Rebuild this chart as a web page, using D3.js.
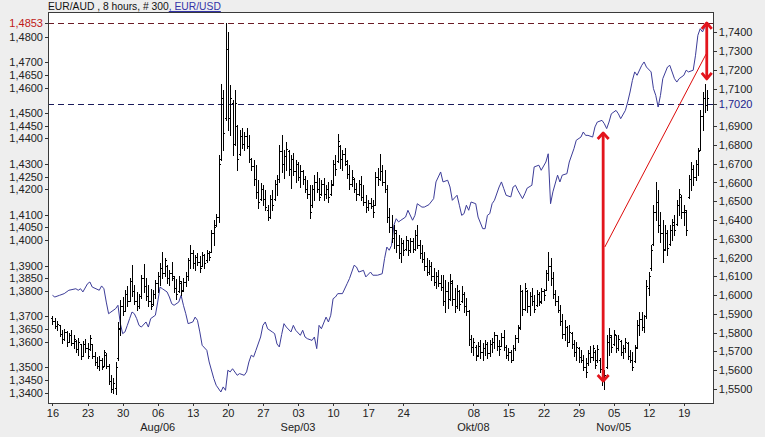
<!DOCTYPE html>
<html><head><meta charset="utf-8">
<script src="https://cdn.jsdelivr.net/npm/d3@7"></script>
<style>
html,body{margin:0;padding:0;background:#eeeeee;}
svg{display:block;}
text{font-family:"Liberation Sans",Arial,sans-serif;font-size:11px;}
</style></head><body>
<svg id="c" width="765" height="437"></svg>
<script>
// ---------- DATA ----------
// EUR/AUD 8-hour bars (left axis), bar index 0 = Mon 16 Jul 2007
const barHigh=[1.3701,1.3694,1.3682,1.3667,1.3647,1.3651,1.3643,1.3635,1.3647,1.3627,1.3607,1.3615,1.3591,1.3603,1.3611,1.3595,1.3627,1.3591,1.3560,1.3540,
1.3544,1.3537,1.3568,1.3556,1.3513,1.3470,1.3458,1.3521,1.3678,1.3765,1.3777,1.3804,1.3820,1.3851,1.3902,1.3824,1.3796,1.3788,1.3863,1.3906,
1.3851,1.3824,1.3808,1.3804,1.3843,1.3875,1.3910,1.3953,1.3930,1.3902,1.3883,1.3914,1.3859,1.3847,1.3859,1.3839,1.3851,1.3875,1.3930,1.3981,
1.3961,1.3942,1.3949,1.3938,1.3953,1.3945,1.3961,1.3957,1.4040,1.4079,1.4103,1.4335,1.4614,1.4590,1.4853,1.4818,1.4610,1.4551,1.4590,1.4452,
1.4433,1.4441,1.4425,1.4441,1.4413,1.4323,1.4315,1.4295,1.4236,1.4225,1.4217,1.4197,1.4138,1.4177,1.4197,1.4236,1.4256,1.4374,1.4413,1.4354,
1.4386,1.4354,1.4335,1.4343,1.4315,1.4307,1.4295,1.4276,1.4252,1.4236,1.4217,1.4217,1.4256,1.4268,1.4244,1.4236,1.4244,1.4217,1.4229,1.4236,
1.4315,1.4335,1.4417,1.4374,1.4354,1.4362,1.4315,1.4295,1.4276,1.4244,1.4225,1.4236,1.4252,1.4217,1.4177,1.4158,1.4166,1.4158,1.4268,1.4283,
1.4339,1.4295,1.4276,1.4217,1.4126,1.4099,1.4060,1.4040,1.4020,1.4008,1.4000,1.4016,1.4000,1.4008,1.4008,1.4040,1.4060,1.4000,1.3981,1.3953,
1.3930,1.3922,1.3914,1.3890,1.3875,1.3883,1.3863,1.3863,1.3843,1.3835,1.3867,1.3843,1.3812,1.3824,1.3804,1.3820,1.3796,1.3773,1.3725,1.3627,
1.3615,1.3587,1.3599,1.3607,1.3595,1.3607,1.3599,1.3607,1.3615,1.3639,1.3627,1.3607,1.3635,1.3647,1.3587,1.3576,1.3568,1.3587,1.3627,1.3667,
1.3824,1.3804,1.3831,1.3804,1.3796,1.3812,1.3784,1.3804,1.3796,1.3812,1.3808,1.3883,1.3953,1.3930,1.3875,1.3804,1.3780,1.3745,1.3710,1.3686,
1.3663,1.3667,1.3639,1.3607,1.3599,1.3580,1.3568,1.3548,1.3537,1.3568,1.3583,1.3587,1.3568,1.3587,1.3537,1.3509,1.3489,1.3627,1.3655,1.3627,
1.3647,1.3627,1.3627,1.3607,1.3587,1.3615,1.3599,1.3568,1.3560,1.3587,1.3686,1.3718,1.3718,1.3706,1.3843,1.3875,1.3981,1.4138,1.4229,1.4197,
1.4111,1.4079,1.4060,1.4040,1.4060,1.4083,1.4099,1.4158,1.4201,1.4177,1.4138,1.4118,1.4256,1.4307,1.4295,1.4315,1.4362,1.4512,1.4582,1.4614,
1.4590];
const barLow=[1.3670,1.3655,1.3647,1.3623,1.3595,1.3607,1.3583,1.3599,1.3587,1.3576,1.3560,1.3548,1.3533,1.3544,1.3560,1.3537,1.3568,1.3537,1.3509,1.3497,
1.3489,1.3493,1.3505,1.3497,1.3434,1.3403,1.3399,1.3395,1.3529,1.3627,1.3706,1.3725,1.3741,1.3765,1.3781,1.3749,1.3725,1.3733,1.3773,1.3796,
1.3765,1.3741,1.3729,1.3745,1.3773,1.3796,1.3824,1.3851,1.3859,1.3831,1.3824,1.3843,1.3796,1.3769,1.3796,1.3784,1.3800,1.3820,1.3843,1.3890,
1.3890,1.3883,1.3902,1.3875,1.3898,1.3890,1.3914,1.3922,1.3953,1.3981,1.4055,1.4071,1.4315,1.4354,1.4472,1.4433,1.4413,1.4335,1.4374,1.4276,
1.4335,1.4362,1.4354,1.4362,1.4307,1.4276,1.4217,1.4166,1.4126,1.4158,1.4138,1.4118,1.4079,1.4087,1.4118,1.4158,1.4177,1.4229,1.4268,1.4244,
1.4276,1.4256,1.4205,1.4256,1.4229,1.4236,1.4209,1.4221,1.4189,1.4166,1.4087,1.4130,1.4158,1.4189,1.4158,1.4177,1.4158,1.4166,1.4150,1.4177,
1.4217,1.4256,1.4307,1.4283,1.4276,1.4295,1.4244,1.4201,1.4213,1.4189,1.4158,1.4177,1.4158,1.4138,1.4111,1.4118,1.4126,1.4091,1.4138,1.4217,
1.4236,1.4217,1.4189,1.4071,1.4032,1.3993,1.3969,1.3953,1.3930,1.3914,1.3942,1.3961,1.3942,1.3953,1.3953,1.3961,1.3969,1.3930,1.3914,1.3883,
1.3863,1.3867,1.3843,1.3824,1.3812,1.3820,1.3804,1.3745,1.3718,1.3733,1.3765,1.3745,1.3718,1.3733,1.3725,1.3757,1.3718,1.3706,1.3587,1.3560,
1.3548,1.3529,1.3544,1.3537,1.3529,1.3548,1.3537,1.3544,1.3560,1.3576,1.3568,1.3548,1.3583,1.3568,1.3537,1.3529,1.3521,1.3529,1.3568,1.3599,
1.3650,1.3706,1.3725,1.3718,1.3706,1.3745,1.3718,1.3741,1.3745,1.3753,1.3765,1.3804,1.3843,1.3824,1.3773,1.3745,1.3718,1.3667,1.3615,1.3607,
1.3583,1.3599,1.3576,1.3544,1.3529,1.3521,1.3521,1.3489,1.3462,1.3509,1.3521,1.3529,1.3497,1.3521,1.3481,1.3430,1.3415,1.3497,1.3548,1.3560,
1.3587,1.3560,1.3568,1.3548,1.3537,1.3560,1.3533,1.3521,1.3489,1.3521,1.3576,1.3627,1.3647,1.3639,1.3694,1.3784,1.3883,1.3981,1.4079,1.4032,
1.3993,1.3914,1.3961,1.3942,1.3981,1.4000,1.4020,1.4060,1.4099,1.4087,1.4060,1.4020,1.4166,1.4197,1.4217,1.4236,1.4256,1.4354,1.4433,1.4504,
1.4512];
const barOpen=[1.3695,1.3680,1.3662,1.3665,1.3630,1.3610,1.3640,1.3600,1.3625,1.3595,1.3605,1.3570,1.3590,1.3545,1.3590,1.3575,1.3570,1.3590,1.3545,1.3520,
1.3505,1.3530,1.3505,1.3550,1.3505,1.3445,1.3415,1.3420,1.3535,1.3650,1.3740,1.3720,1.3790,1.3760,1.3840,1.3800,1.3760,1.3740,1.3780,1.3850,
1.3820,1.3780,1.3760,1.3750,1.3790,1.3830,1.3860,1.3890,1.3870,1.3900,1.3850,1.3870,1.3850,1.3810,1.3800,1.3830,1.3805,1.3835,1.3860,1.3920,
1.3950,1.3910,1.3935,1.3915,1.3900,1.3940,1.3920,1.3950,1.3955,1.4030,1.4060,1.4090,1.4320,1.4560,1.4480,1.4750,1.4480,1.4540,1.4380,1.4450,
1.4340,1.4410,1.4380,1.4410,1.4370,1.4320,1.4290,1.4240,1.4190,1.4160,1.4200,1.4160,1.4120,1.4090,1.4160,1.4160,1.4220,1.4240,1.4350,1.4300,
1.4330,1.4350,1.4280,1.4320,1.4270,1.4300,1.4250,1.4270,1.4240,1.4200,1.4180,1.4140,1.4200,1.4230,1.4200,1.4180,1.4220,1.4180,1.4200,1.4180,
1.4220,1.4300,1.4310,1.4370,1.4320,1.4340,1.4300,1.4260,1.4220,1.4240,1.4200,1.4180,1.4220,1.4170,1.4150,1.4130,1.4145,1.4135,1.4140,1.4250,
1.4240,1.4270,1.4230,1.4200,1.4090,1.4050,1.4010,1.4030,1.3980,1.3950,1.3990,1.3965,1.4000,1.3960,1.3995,1.3965,1.4020,1.3980,1.3950,1.3925,
1.3900,1.3875,1.3900,1.3860,1.3835,1.3860,1.3830,1.3815,1.3760,1.3800,1.3770,1.3830,1.3770,1.3740,1.3800,1.3760,1.3790,1.3740,1.3720,1.3610,
1.3580,1.3580,1.3550,1.3585,1.3560,1.3575,1.3590,1.3555,1.3590,1.3600,1.3625,1.3585,1.3585,1.3620,1.3580,1.3550,1.3560,1.3530,1.3575,1.3615,
1.3660,1.3800,1.3730,1.3800,1.3740,1.3780,1.3760,1.3745,1.3790,1.3760,1.3800,1.3805,1.3870,1.3900,1.3850,1.3790,1.3760,1.3725,1.3680,1.3630,
1.3660,1.3600,1.3635,1.3590,1.3560,1.3575,1.3540,1.3530,1.3500,1.3515,1.3555,1.3540,1.3560,1.3530,1.3530,1.3495,1.3445,1.3500,1.3600,1.3620,
1.3590,1.3625,1.3575,1.3605,1.3560,1.3575,1.3595,1.3545,1.3530,1.3525,1.3580,1.3665,1.3690,1.3660,1.3700,1.3810,1.3890,1.3985,1.4110,1.4150,
1.4060,1.4030,1.3965,1.4030,1.3985,1.4040,1.4060,1.4065,1.4140,1.4170,1.4110,1.4110,1.4170,1.4240,1.4280,1.4250,1.4300,1.4355,1.4490,1.4560,
1.4530];
const barClose=[1.3680,1.3662,1.3670,1.3630,1.3610,1.3640,1.3600,1.3625,1.3595,1.3610,1.3570,1.3600,1.3545,1.3590,1.3575,1.3545,1.3615,1.3545,1.3520,1.3505,
1.3530,1.3500,1.3560,1.3505,1.3445,1.3415,1.3440,1.3500,1.3655,1.3740,1.3720,1.3790,1.3760,1.3840,1.3800,1.3760,1.3740,1.3780,1.3850,1.3820,
1.3780,1.3760,1.3740,1.3790,1.3830,1.3860,1.3890,1.3870,1.3920,1.3850,1.3870,1.3860,1.3810,1.3790,1.3840,1.3800,1.3835,1.3860,1.3920,1.3950,
1.3910,1.3935,1.3915,1.3890,1.3940,1.3910,1.3950,1.3935,1.4030,1.4050,1.4090,1.4300,1.4560,1.4420,1.4750,1.4480,1.4560,1.4380,1.4540,1.4320,
1.4410,1.4380,1.4410,1.4370,1.4320,1.4290,1.4240,1.4190,1.4150,1.4200,1.4160,1.4130,1.4090,1.4160,1.4140,1.4220,1.4240,1.4350,1.4300,1.4330,
1.4360,1.4280,1.4320,1.4270,1.4300,1.4250,1.4270,1.4240,1.4200,1.4180,1.4110,1.4200,1.4230,1.4200,1.4170,1.4220,1.4180,1.4200,1.4170,1.4215,
1.4300,1.4280,1.4390,1.4320,1.4340,1.4310,1.4260,1.4220,1.4250,1.4200,1.4180,1.4220,1.4170,1.4150,1.4130,1.4145,1.4135,1.4110,1.4250,1.4240,
1.4270,1.4230,1.4200,1.4090,1.4050,1.4010,1.4040,1.3980,1.3950,1.3990,1.3960,1.4000,1.3960,1.3995,1.3965,1.4020,1.3980,1.3950,1.3925,1.3900,
1.3875,1.3900,1.3860,1.3835,1.3860,1.3830,1.3815,1.3760,1.3800,1.3770,1.3840,1.3770,1.3740,1.3800,1.3750,1.3790,1.3740,1.3720,1.3610,1.3580,
1.3600,1.3545,1.3585,1.3560,1.3575,1.3590,1.3555,1.3590,1.3600,1.3625,1.3585,1.3570,1.3620,1.3580,1.3550,1.3560,1.3530,1.3575,1.3615,1.3655,
1.3800,1.3730,1.3810,1.3740,1.3780,1.3760,1.3730,1.3790,1.3755,1.3800,1.3785,1.3870,1.3900,1.3850,1.3790,1.3760,1.3725,1.3680,1.3630,1.3660,
1.3600,1.3640,1.3590,1.3560,1.3580,1.3540,1.3530,1.3500,1.3480,1.3555,1.3540,1.3575,1.3510,1.3570,1.3495,1.3445,1.3470,1.3600,1.3625,1.3580,
1.3630,1.3575,1.3610,1.3560,1.3575,1.3600,1.3545,1.3530,1.3500,1.3575,1.3665,1.3690,1.3660,1.3700,1.3820,1.3860,1.3960,1.4110,1.4150,1.4060,
1.4030,1.3960,1.4030,1.3970,1.4040,1.4070,1.4040,1.4140,1.4180,1.4110,1.4120,1.4040,1.4240,1.4280,1.4250,1.4300,1.4350,1.4490,1.4560,1.4530,
1.4560];

// EUR/USD line (right axis): bar index and value
const usdBar=[0,1,3,5,7,10,11,12,13,15,16,17,20,21,22,23,24,25,27,28,29,30,31,32,33,34,35,36,37,38,40,41,42,44,45,46,47,49,50,51,52,54,55,56,57,58,60,61,62,63,64,66,67,69,70,72,73,74,75,76,77,79,80,82,83,84,85,86,87,89,90,91,92,94,95,96,97,98,99,100,102,103,104,106,107,108,109,111,112,113,114,115,117,118,119,120,121,122,124,126,127,129,130,131,133,134,136,137,139,141,142,143,144,145,146,147,148,149,151,152,154,155,156,158,159,161,163,164,166,167,169,170,171,173,174,175,176,177,178,179,181,182,184,185,186,187,188,189,191,192,193,194,196,197,198,199,201,202,203,205,206,208,209,211,212,213,214,216,217,218,220,221,223,224,226,227,228,229,231,232,233,235,236,237,238,239,241,242,243,245,246,247,248,249,250,252,253,254,256,257,258,259,260,261,263,264,266,267,268,270,271,272,274,275,276,277,278,279,280];
const usdClose=[1.5999,1.5990,1.5999,1.6008,1.6026,1.6034,1.6026,1.6034,1.6017,1.6061,1.6070,1.6043,1.6026,1.6049,1.6034,1.5963,1.5901,1.5910,1.5928,1.5946,1.5850,1.5795,1.5804,1.5839,1.5875,1.5910,1.5901,1.5875,1.5839,1.5830,1.5857,1.5830,1.5875,1.5893,1.5963,1.6043,1.6034,1.6017,1.5990,1.5954,1.5946,1.5963,1.5999,1.5946,1.5901,1.5848,1.5857,1.5883,1.5866,1.5804,1.5733,1.5706,1.5644,1.5555,1.5520,1.5484,1.5511,1.5493,1.5600,1.5591,1.5608,1.5573,1.5582,1.5573,1.5591,1.5644,1.5680,1.5671,1.5706,1.5777,1.5839,1.5857,1.5821,1.5804,1.5795,1.5740,1.5724,1.5790,1.5848,1.5830,1.5804,1.5839,1.5813,1.5786,1.5813,1.5777,1.5768,1.5759,1.5777,1.5715,1.5839,1.5821,1.5883,1.5857,1.5893,1.5981,1.5990,1.6008,1.6008,1.6061,1.6088,1.6159,1.6150,1.6123,1.6132,1.6097,1.6123,1.6106,1.6106,1.6114,1.6194,1.6256,1.6239,1.6265,1.6372,1.6407,1.6390,1.6399,1.6416,1.6452,1.6399,1.6425,1.6487,1.6469,1.6469,1.6482,1.6514,1.6603,1.6656,1.6603,1.6612,1.6576,1.6505,1.6532,1.6479,1.6425,1.6434,1.6479,1.6452,1.6496,1.6487,1.6416,1.6354,1.6354,1.6425,1.6434,1.6487,1.6505,1.6576,1.6603,1.6567,1.6532,1.6523,1.6576,1.6585,1.6558,1.6514,1.6540,1.6570,1.6585,1.6683,1.6692,1.6665,1.6709,1.6753,1.6487,1.6550,1.6639,1.6603,1.6639,1.6647,1.6709,1.6780,1.6825,1.6842,1.6869,1.6851,1.6851,1.6842,1.6896,1.6922,1.6931,1.6913,1.6887,1.6922,1.6966,1.6984,1.6966,1.6940,1.6984,1.7029,1.7082,1.7144,1.7189,1.7171,1.7224,1.7242,1.7215,1.7189,1.7100,1.7064,1.7002,1.7064,1.7153,1.7215,1.7224,1.7153,1.7135,1.7153,1.7171,1.7198,1.7189,1.7198,1.7278,1.7384,1.7419,1.7402,1.7428,1.7437];

// axis ticks
const leftTicks=[1.48,1.47,1.465,1.46,1.45,1.445,1.44,1.43,1.425,1.42,1.41,1.405,1.40,1.39,1.385,1.38,1.37,1.365,1.36,1.35,1.345,1.34];
const leftRef=1.4853;
const rightTicks=[1.74,1.73,1.72,1.71,1.69,1.68,1.67,1.66,1.65,1.64,1.63,1.62,1.61,1.60,1.59,1.58,1.57,1.56,1.55];
const rightRef=1.7020;
const weekBars=[0,15,30,45,60,75,90,105,120,135,150,180,195,210,225,240,255,270];
const weekLabels=["16","23","30","06","13","20","27","03","10","17","24","08","15","22","29","05","12","19"];
const monthBars=[45,105,180,240];
const monthLabels=["Aug/06","Sep/03","Okt/08","Nov/05"];

// annotations (left-axis values)
const arrowBars=[235.5,279.8];
const arrowLow=[1.3442,1.4630];
const arrowHigh=[1.4425,1.4858];
const trendBars=[236.2,279.6];
const trendVals=[1.3973,1.4733];

// ---------- DRAW ----------
const svg=d3.select("#c");
const L=48,T=12.5,R=713.3,B=403;
const x=d3.scaleLinear().domain([-1.92,282.6]).range([L,R]);
const yL=d3.scaleLinear().domain([1.34,1.48]).range([392.7,36.7]);
const yR=d3.scaleLinear().domain([1.55,1.74]).range([389,32.3]);
const fmt=d=>d3.format(".4f")(d).replace(".",",");
const crisp=v=>Math.round(v)+0.5;

svg.append("rect").attr("width",765).attr("height",437).attr("fill","#eeeeee");
svg.append("rect").attr("x",48.5).attr("y",12.5).attr("width",665).attr("height",390.5).attr("fill","#ffffff");

svg.append("defs").append("clipPath").attr("id","clip")
  .append("rect").attr("x",49).attr("y",13).attr("width",664).attr("height",389.5);
const plot=svg.append("g").attr("clip-path","url(#clip)");

// reference dashed lines
plot.append("line").attr("x1",L).attr("x2",R).attr("y1",crisp(yL(leftRef))).attr("y2",crisp(yL(leftRef)))
  .attr("stroke","#6a1a24").attr("stroke-dasharray","6,4").attr("shape-rendering","crispEdges");
plot.append("line").attr("x1",L).attr("x2",R).attr("y1",crisp(yR(rightRef))).attr("y2",crisp(yR(rightRef)))
  .attr("stroke","#1a1a5a").attr("stroke-dasharray","6,4").attr("shape-rendering","crispEdges");

// EUR/USD line
const usd=usdBar.map((b,i)=>[b,usdClose[i]]);
plot.append("path").datum(usd)
  .attr("d",d3.line().x(d=>x(d[0])).y(d=>yR(d[1])))
  .attr("fill","none").attr("stroke","#3c3c98").attr("stroke-width",1);

// EUR/AUD bars
const bars=d3.range(barHigh.length);
plot.append("path")
  .attr("d",bars.map(i=>{
    const X=crisp(x(i));
    const yh=Math.round(yL(barHigh[i])), yl=Math.round(yL(barLow[i]));
    const yo=crisp(yL(barOpen[i])), yc=crisp(yL(barClose[i]));
    return `M${X},${yh}V${yl+1}M${X-1.5},${yo}H${X}M${X},${yc}H${X+1.5}`;
  }).join(""))
  .attr("fill","none").attr("stroke","#000").attr("stroke-width",1).attr("shape-rendering","crispEdges");

// annotations
const red="#e3141c";
plot.append("line").attr("x1",x(trendBars[0])).attr("y1",yL(trendVals[0]))
  .attr("x2",x(trendBars[1])).attr("y2",yL(trendVals[1])).attr("stroke","#dd0a0a").attr("stroke-width",1);
arrowBars.forEach((b,i)=>{
  const ax=x(b), y1=yL(arrowHigh[i]), y2=yL(arrowLow[i]);
  const hw=i===0?5.5:5, hh=7;
  const g=plot.append("g").attr("stroke",red).attr("fill","none").attr("stroke-width",2.8);
  g.append("line").attr("x1",ax).attr("x2",ax).attr("y1",y1+1).attr("y2",y2-1);
  g.append("path").attr("d",`M${ax-hw},${y1+hh}L${ax},${y1+1}L${ax+hw},${y1+hh}`).attr("stroke-linejoin","round");
  g.append("path").attr("d",`M${ax-hw},${y2-hh}L${ax},${y2-1}L${ax+hw},${y2-hh}`).attr("stroke-linejoin","round");
});

// frame
svg.append("rect").attr("x",48.5).attr("y",12.5).attr("width",665).attr("height",390.5)
  .attr("fill","none").attr("stroke","#3a3a3a").attr("shape-rendering","crispEdges");

// axes
function styleAxis(g,color){
  g.attr("font-family",'"Liberation Sans",Arial,sans-serif').attr("font-size",11);
  g.select(".domain").remove();
  g.selectAll("line").attr("stroke","#333").attr("shape-rendering","crispEdges");
  g.selectAll("text").attr("fill",color);
}
svg.append("g").attr("transform",`translate(${L+0.5},0)`)
  .call(d3.axisLeft(yL).tickValues(leftTicks).tickSize(4).tickPadding(1.5).tickFormat(fmt))
  .call(g=>styleAxis(g,"#222"));
svg.append("g").attr("transform",`translate(${L+0.5},0)`)
  .call(d3.axisLeft(yL).tickValues([leftRef]).tickSize(4).tickPadding(1.5).tickFormat(fmt))
  .call(g=>styleAxis(g,"#c01818"));
svg.append("g").attr("transform",`translate(${R},0)`)
  .call(d3.axisRight(yR).tickValues(rightTicks).tickSize(4).tickPadding(1.5).tickFormat(fmt))
  .call(g=>styleAxis(g,"#222"));
svg.append("g").attr("transform",`translate(${R},0)`)
  .call(d3.axisRight(yR).tickValues([rightRef]).tickSize(4).tickPadding(1.5).tickFormat(fmt))
  .call(g=>styleAxis(g,"#1c1c8c"));
svg.append("g").attr("transform",`translate(0,${B})`)
  .call(d3.axisBottom(x).tickValues(weekBars).tickSize(3).tickPadding(3).tickFormat((d,i)=>weekLabels[i]))
  .call(g=>styleAxis(g,"#222"));
svg.append("g").selectAll("text").data(monthBars).join("text")
  .attr("x",d=>x(d)).attr("y",431).attr("text-anchor","middle").attr("fill","#222")
  .text((d,i)=>monthLabels[i]);

// title
const title=svg.append("text").attr("x",48).attr("y",10).style("font-size","10.3px");
title.append("tspan").attr("fill","#111").text("EUR/AUD , 8 hours, # 300");
title.append("tspan").attr("fill","#3333a8").attr("text-decoration","underline").text(", EUR/USD");
</script>
</body></html>
